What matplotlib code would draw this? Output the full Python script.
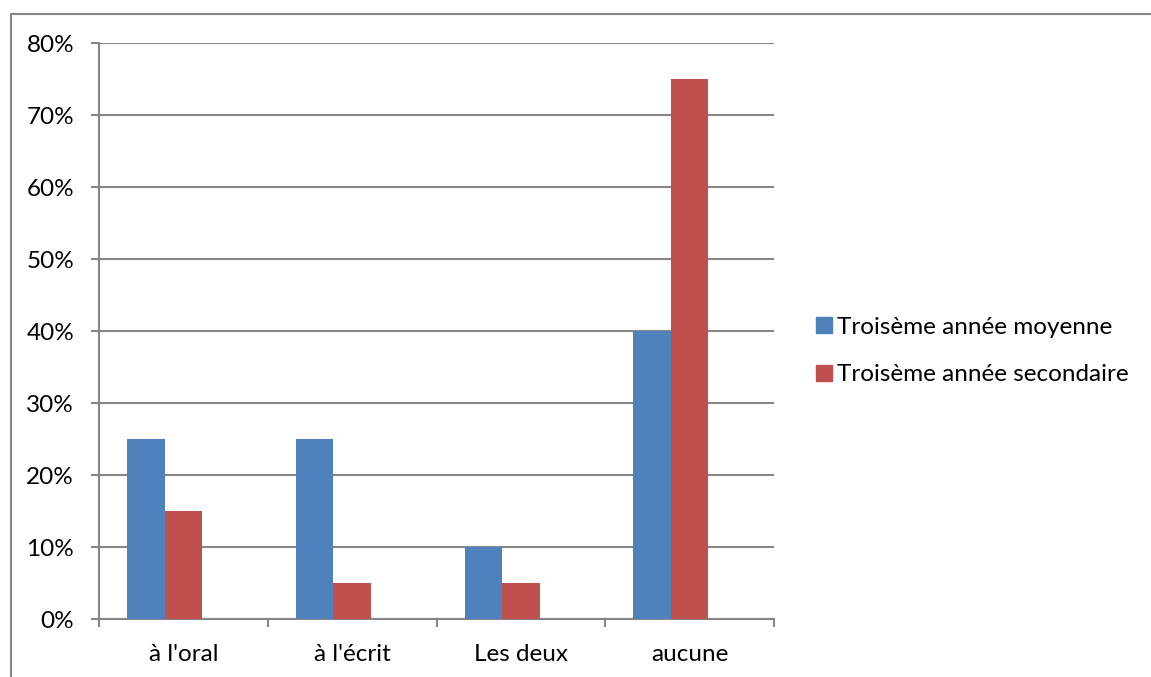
import numpy as np
import matplotlib.pyplot as plt
from matplotlib.lines import Line2D

categories = ["à l'oral", "à l'écrit", "Les deux", "aucune"]
moyenne = [25, 25, 10, 40]
secondaire = [15, 5, 5, 75]
series_names = ['Troisème année moyenne', 'Troisème année secondaire']
yticks = [0, 10, 20, 30, 40, 50, 60, 70, 80]

plt.rcParams['font.family'] = ['Lato', 'DejaVu Sans']
grey = '#868686'
fs = 17.5

fig = plt.figure(figsize=(11.51, 6.77), dpi=100)
ax = fig.add_axes([99/1151, 1-619/677, 675/1151, 576/677])

x = np.arange(len(categories))
w = 1/4.5
ax.bar(x - w, moyenne, w, align='center', color='#4F81BD', label=series_names[0], zorder=3)
ax.bar(x, secondaire, w, align='center', color='#C0504D', label=series_names[1], zorder=3)

ax.set_xlim(-0.5, len(categories) - 0.5)
ax.set_ylim(0, 80)
ax.set_yticks(yticks)
ax.set_yticklabels([f'{v}%' for v in yticks])
ax.yaxis.grid(True, color=grey, linewidth=1.5, zorder=0)
ax.set_axisbelow(True)

ax.set_xticks(x)
ax.set_xticklabels(categories)
ax.set_xticks(np.arange(len(categories) + 1) - 0.5, minor=True)
ax.tick_params(axis='x', which='major', length=0, pad=18, labelsize=fs)
ax.tick_params(axis='x', which='minor', length=6, width=1.5, color=grey)
ax.tick_params(axis='y', length=6, width=1.5, color=grey, pad=12, labelsize=fs)

for s in ['top', 'right']:
    ax.spines[s].set_visible(False)
for s in ['left', 'bottom']:
    ax.spines[s].set_color(grey)
    ax.spines[s].set_linewidth(1.5)

handles = [Line2D([], [], marker='s', linestyle='none', markersize=11, color=c)
           for c in ['#4F81BD', '#C0504D']]
fig.legend(handles, series_names, loc='center left', bbox_to_anchor=(791/1151, 1-351/677),
           frameon=False, fontsize=fs, handletextpad=0.1, labelspacing=1.1, handlelength=0.9)

# cadre du graphique
fig.add_artist(Line2D([11/1151, 11/1151, 1.0], [0, 1-14/677, 1-14/677],
                      color=grey, linewidth=1.5, transform=fig.transFigure))

plt.savefig('out.png')
